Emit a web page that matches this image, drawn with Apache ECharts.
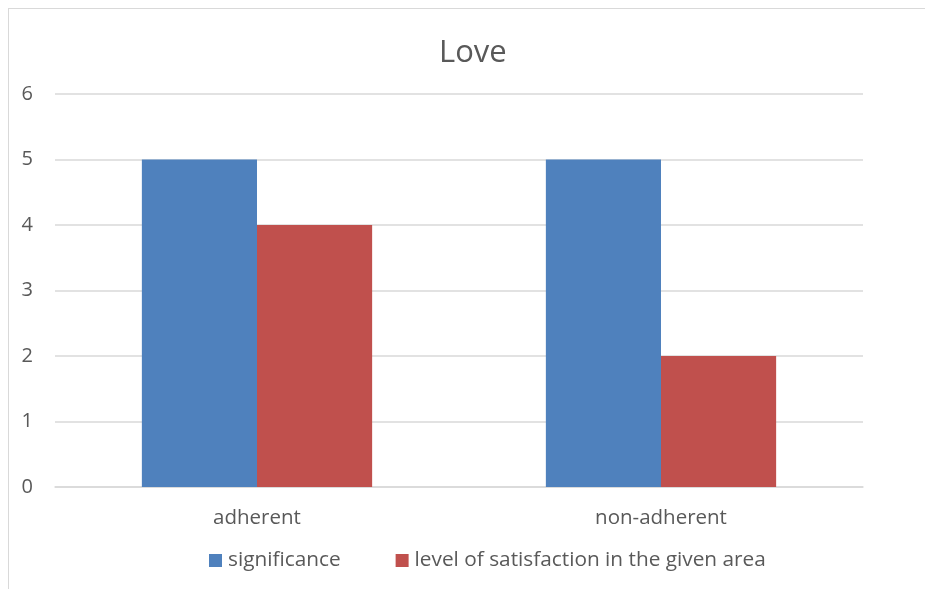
<!DOCTYPE html>
<html><head><meta charset="utf-8">
<script src="https://cdn.jsdelivr.net/npm/echarts@6/dist/echarts.min.js"></script>
<style>
html,body{margin:0;padding:0;background:#fff;}
#frame{position:absolute;left:8px;top:8px;width:940px;height:600px;border:1.5px solid #d9d9d9;box-sizing:border-box;}
#c{position:absolute;left:0;top:0;width:925px;height:589px;}
</style></head>
<body>
<div id="frame"></div>
<div id="c"></div>
<script>
const categories = ["adherent", "non-adherent"];
const seriesNames = ["significance", "level of satisfaction in the given area"];
const significance = [5, 5];
const satisfaction = [4, 2];
const titleText = "Love";

const FONT = "'Open Sans', 'Liberation Sans', sans-serif";
const chart = echarts.init(document.getElementById('c'), null, {renderer: 'canvas'});
chart.setOption({
  animation: false,
  title: {text: titleText, left: 434, top: 33, textStyle: {fontFamily: FONT, fontSize: 31, fontWeight: 'normal', color: '#595959'}},
  legend: {
    bottom: 13, left: 204, itemWidth: 13, itemHeight: 13, itemGap: 55,
    icon: 'rect',
    textStyle: {fontFamily: FONT, fontSize: 20.8, color: '#595959', padding: [0,0,0,1]},
    data: seriesNames
  },
  grid: {left: 55, right: 62, top: 94, bottom: 102, containLabel: false},
  xAxis: {
    type: 'category', data: categories,
    axisLine: {lineStyle: {color: '#d9d9d9', width: 1.5}},
    axisTick: {show: false},
    axisLabel: {fontFamily: FONT, fontSize: 20.5, color: '#595959', margin: 21}
  },
  yAxis: {
    type: 'value', min: 0, max: 6, interval: 1,
    axisLine: {show: false}, axisTick: {show: false},
    splitLine: {lineStyle: {color: '#d9d9d9', width: 1.5}},
    axisLabel: {fontFamily: FONT, fontSize: 20, color: '#595959', margin: 22}
  },
  series: [
    {name: seriesNames[0], type: 'bar', data: significance, barGap: '0%', barCategoryGap: '43%', itemStyle: {color: '#4F81BD'}},
    {name: seriesNames[1], type: 'bar', data: satisfaction, barGap: '0%', barCategoryGap: '43%', itemStyle: {color: '#C0504D'}}
  ]
});
</script>
</body></html>
